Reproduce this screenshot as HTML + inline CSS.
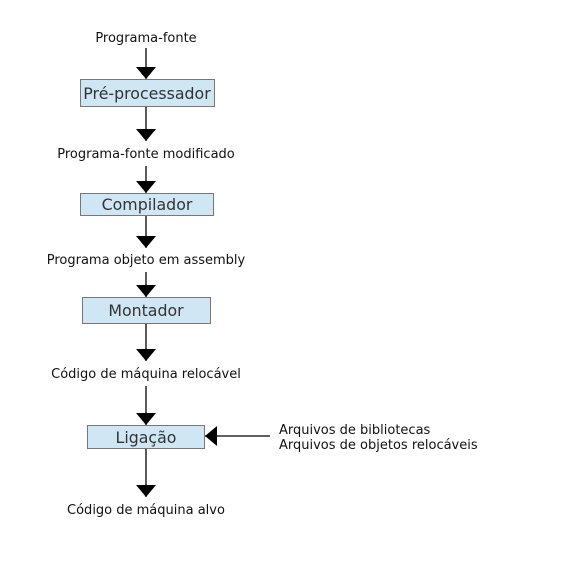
<!DOCTYPE html>
<html><head><style>body{margin:0;background:#fff}</style></head><body>
<svg width="567" height="567" xmlns="http://www.w3.org/2000/svg" font-family="DejaVu Sans, sans-serif">
<defs><marker id="a" markerWidth="12" markerHeight="20" refX="12" refY="10" orient="auto" markerUnits="userSpaceOnUse"><path d="M0,0 L12,10 L0,20 Z" fill="#000"/></marker></defs>
<g stroke="#000" stroke-width="1.3" marker-end="url(#a)">
<line x1="146" y1="48" x2="146" y2="79"/>
<line x1="146" y1="107" x2="146" y2="141"/>
<line x1="146" y1="166" x2="146" y2="193"/>
<line x1="146" y1="216" x2="146" y2="248"/>
<line x1="146" y1="272" x2="146" y2="297"/>
<line x1="146" y1="324" x2="146" y2="361"/>
<line x1="146" y1="386" x2="146" y2="425"/>
<line x1="146" y1="449" x2="146" y2="497"/>
<line x1="270" y1="436" x2="205" y2="436"/>
</g>
<g fill="#cfe6f5" stroke="#777" stroke-width="1">
<rect x="80.5" y="79.5" width="134" height="27"/>
<rect x="80.5" y="193.5" width="133" height="22"/>
<rect x="82.5" y="297.5" width="128" height="26"/>
<rect x="87.5" y="425.5" width="117" height="23"/>
</g>
<g font-size="15.8" text-anchor="middle" fill="#333">
<text x="147" y="99">Pré-processador</text>
<text x="147" y="210">Compilador</text>
<text x="146" y="316">Montador</text>
<text x="146" y="443">Ligação</text>
</g>
<g font-size="13" text-anchor="middle" fill="#111">
<text x="146" y="42">Programa-fonte</text>
<text x="146" y="158">Programa-fonte modificado</text>
<text x="146" y="264">Programa objeto em assembly</text>
<text x="146" y="378">Código de máquina relocável</text>
<text x="146" y="514">Código de máquina alvo</text>
</g>
<g font-size="13" fill="#111">
<text x="279" y="434">Arquivos de bibliotecas</text>
<text x="279" y="449">Arquivos de objetos relocáveis</text>
</g>
</svg>
</body></html>
